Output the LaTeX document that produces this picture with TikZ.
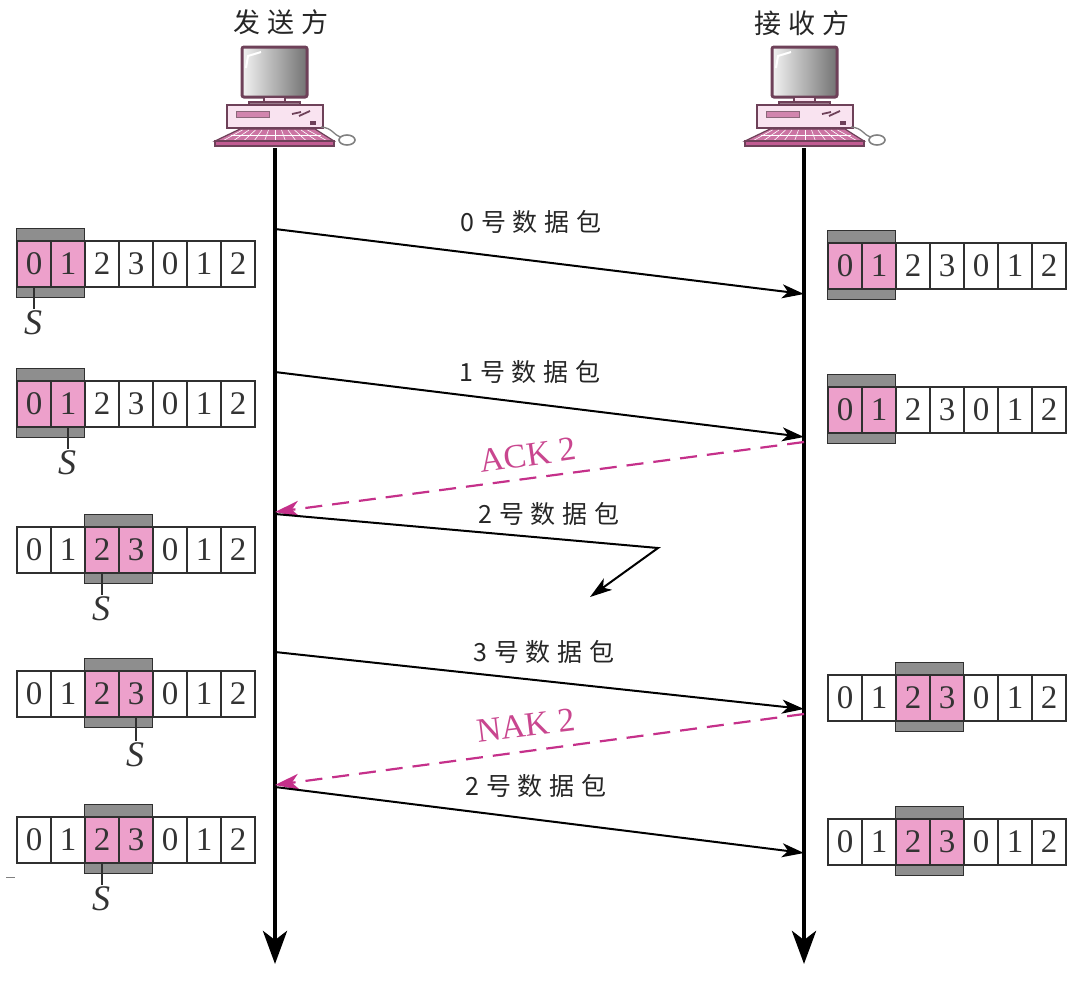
\documentclass[tikz,border=0pt]{standalone}
\usepackage{fontspec}
\usetikzlibrary{arrows.meta,positioning}
\setmainfont{Liberation Serif}
\newfontfamily\cjk[LetterSpace=27]{Noto Sans CJK SC}

\definecolor{winpink}{HTML}{EDA0CB}
\definecolor{wingray}{HTML}{8E8E8E}
\definecolor{celline}{HTML}{303030}
\definecolor{pcline}{HTML}{6E4159}
\definecolor{pcpink}{HTML}{C25C93}
\definecolor{pcpale}{HTML}{F9E3F0}
\definecolor{acklabel}{HTML}{C9468F}
\definecolor{ackline}{HTML}{C5308A}

\tikzset{
    cell/.style={draw=celline, line width=2pt, minimum width=34pt, minimum height=46pt,
        inner sep=0pt, font=\fontsize{33}{33}\selectfont, text=black!80},
    window/.style={cell, fill=winpink},
    band/.style={draw=celline, line width=1.4pt, fill=wingray, minimum width=68pt,
        minimum height=69pt, inner sep=0pt},
    seqlabel/.style={inner sep=1pt, font=\fontsize{36}{36}\selectfont\itshape, text=black!80},
    msglabel/.style={inner sep=0pt, font=\fontsize{25}{28}\selectfont\cjk, text=black!85},
    hostlabel/.style={inner sep=0pt, font=\fontsize{27}{30}\selectfont\cjk, text=black!85},
    ctllabel/.style={inner sep=0pt, font=\fontsize{34}{34}\selectfont, text=acklabel},
    lifeline/.style={line width=4.6pt, -{Stealth[length=33pt,width=24pt,inset=9pt]}},
    msg/.style={line width=2pt, -{Stealth[length=22pt,width=14pt,inset=6pt]}},
    ctl/.style={ackline, line width=2.2pt, dash pattern=on 17pt off 10pt,
        -{Stealth[length=24pt,width=16pt,inset=7pt]}},
    computer/.pic={
        % monitor
        \draw[pcline, line width=3pt, rounded corners=2pt, left color=black!5, right color=black!55]
            (-33,47) rectangle (32,97);
        \draw[white, line width=2pt] (-29,68) -- (-27,56) -- (-14,52);
        % stand
        \draw[pcline, line width=1.4pt, fill=pcpale] (-11,97) rectangle (10,103);
        \draw[pcline, line width=1.4pt, fill=pcline!70] (-26,102) rectangle (25,106);
        % box
        \draw[pcline, line width=1.6pt, fill=pcpale] (-48,105) rectangle (48,128);
        \draw[pcline!80, line width=1pt, fill=pcpink!75] (-39,111) rectangle (-6,117);
        \draw[pcline, line width=1.8pt] (17,114) -- (26,112) (24,116) -- (35,111);
        \fill[pcline] (35,121) rectangle (41,125);
        % keyboard
        \draw[pcline, line width=1.2pt, fill=pcpink!85] (-35,129) -- (40,129) -- (59,141) -- (-60,141) -- cycle;
        \foreach \k in {-5,...,5}
            \draw[white, line width=.6pt] (\k*6.5,130) -- (\k*10.5,141);
        \draw[white, line width=.5pt] (-44,135) -- (46,135);
        \draw[pcline, line width=1.2pt, fill=pcpink] (-60,141) -- (59,141) -- (59,146) -- (-60,146) -- cycle;
        % mouse
        \draw[black!50, line width=1.3pt] (46,127) .. controls (58,128) and (58,135) .. (66,137);
        \draw[black!50, line width=1.6pt, fill=white] (72,140) ellipse (8 and 5);
    }
}

% \seqrow{name}{left x}{top y}{first cell of the window}
\newcommand{\seqrow}[4]{
    \pgfmathtruncatemacro{\second}{#4+1}
    \node[band, anchor=north west] (#1-band) at ({#2+#4*34}, #3-12) {};
    \foreach \i/\d in {0/0,1/1,2/2,3/3,4/0,5/1,6/2} {
        \ifnum\i=#4
            \node[window, anchor=north west] (#1-\i) at ({#2+\i*34}, #3) {\d};
        \else\ifnum\i=\second
            \node[window, anchor=north west] (#1-\i) at ({#2+\i*34}, #3) {\d};
        \else
            \node[cell, anchor=north west] (#1-\i) at ({#2+\i*34}, #3) {\d};
        \fi\fi
    }
}

\begin{document}
\begin{tikzpicture}[x=1pt, y=-1pt]
    \useasboundingbox (0,0) rectangle (1080,986);

    % hosts
    \node[hostlabel] (sender) at (281,22) {发送方};
    \node[hostlabel] (receiver) at (802,23) {接收方};
    \pic at (275,0) {computer};
    \pic at (805,0) {computer};

    \coordinate (sendtop) at (275,148);
    \coordinate (recvtop) at (804,148);
    \coordinate (sendend) at (275,964);
    \coordinate (recvend) at (804,964);
    \draw[lifeline] (sendtop) -- (sendend);
    \draw[lifeline] (recvtop) -- (recvend);

    % sender windows
    \seqrow{swa}{16}{240}{0}
    \seqrow{swb}{16}{380}{0}
    \seqrow{swc}{16}{526}{2}
    \seqrow{swd}{16}{670}{2}
    \seqrow{swe}{16}{816}{2}

    % receiver windows
    \seqrow{rwa}{827}{242}{0}
    \seqrow{rwb}{827}{386}{0}
    \seqrow{rwc}{827}{674}{2}
    \seqrow{rwd}{827}{818}{2}

    % send pointers
    \node[seqlabel, below=21pt of swa-0, xshift=-1pt] (sa) {S};
    \node[seqlabel, below=21pt of swb-1, xshift=-1pt] (sb) {S};
    \node[seqlabel, below=21pt of swc-2, xshift=-1pt] (sc) {S};
    \node[seqlabel, below=23pt of swd-3, xshift=-1pt] (sd) {S};
    \node[seqlabel, below=21pt of swe-2, xshift=-1pt] (se) {S};
    \foreach \r/\c/\s in {swa/0/sa, swb/1/sb, swc/2/sc, swd/3/sd, swe/2/se}
        \draw[celline, line width=1.6pt] (\r-\c.south) -- (\r-\c.south |- \s.north);

    % stray mark left of the last row
    \coordinate (marka) at (6,877);
    \coordinate (markb) at (15,877);
    \draw[black!50, line width=.9pt] (marka) -- (markb);

    % messages
    \coordinate (ma) at (275,229);
    \coordinate (mb) at (804,294);
    \coordinate (mc) at (275,372);
    \coordinate (md) at (804,437);
    \coordinate (ae) at (804,442);
    \coordinate (af) at (275,512);
    \coordinate (mg) at (275,514);
    \coordinate (lost) at (658,548);
    \coordinate (lostend) at (590,597);
    \coordinate (mh) at (275,652);
    \coordinate (mi) at (804,709);
    \coordinate (nj) at (804,714);
    \coordinate (nk) at (275,785);
    \coordinate (ml) at (275,787);
    \coordinate (mm) at (804,853);

    \draw[msg] (ma) -- (mb);
    \draw[msg] (mc) -- (md);
    \draw[ctl] (ae) -- (af);
    \draw[msg] (mg) -- (lost) -- (lostend);
    \draw[msg] (mh) -- (mi);
    \draw[ctl] (nj) -- (nk);
    \draw[msg] (ml) -- (mm);

    \node[msglabel] (pa) at (531,222) {0号数据包};
    \node[msglabel] (pb) at (530,372) {1号数据包};
    \node[msglabel] (pc) at (549,514) {2号数据包};
    \node[msglabel] (pd) at (544,652) {3号数据包};
    \node[msglabel] (pe) at (536,786) {2号数据包};
    \node[ctllabel, rotate=8] (ack) at (528,455) {ACK 2};
    \node[ctllabel, rotate=7] (nak) at (526,725) {NAK 2};
\end{tikzpicture}
\end{document}
